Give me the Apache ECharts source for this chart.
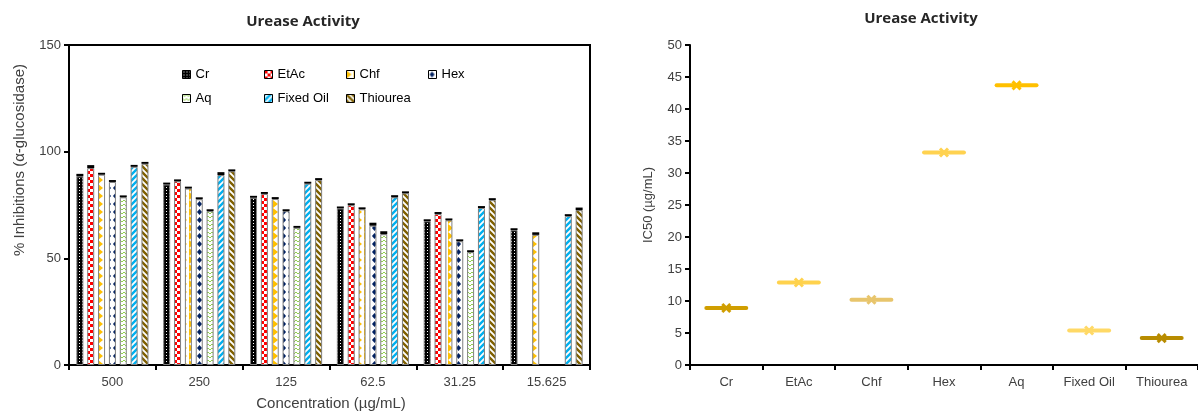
<!DOCTYPE html>
<html>
<head>
<meta charset="utf-8">
<script src="https://cdn.jsdelivr.net/npm/echarts@6/dist/echarts.min.js"></script>
<style>
html,body{margin:0;padding:0;background:#fff;}
#chart{width:1198px;height:412px;}
</style>
</head>
<body>
<div id="chart"></div>
<script>
// ---- data ----
const concentrations = ['500', '250', '125', '62.5', '31.25', '15.625'];
const extracts = ['Cr', 'EtAc', 'Chf', 'Hex', 'Aq', 'Fixed Oil', 'Thiourea'];
const crInhib    = [88.4, 84.6, 78.4, 73.4, 67.4, 63.2];
const etacInhib  = [92.3, 86.1, 80.2, 74.9, 70.8, null];
const chfInhib   = [89.2, 82.7, 77.8, 73.0, 67.8, 61.0];
const hexInhib   = [85.8, 77.7, 72.1, 65.3, 58.0, null];
const aqInhib    = [78.6, 72.1, 64.3, 61.3, 52.9, null];
const oilInhib   = [92.9, 89.0, 85.0, 78.6, 73.6, 69.8];
const thioInhib  = [94.3, 90.8, 86.7, 80.5, 77.3, 72.6];
const crErr   = [1.2, 0.9, 0.9, 0.9, 0.9, 0.9];
const etacErr = [1.4, 0.9, 0.9, 0.9, 0.9, null];
const chfErr  = [0.9, 0.9, 0.9, 0.9, 0.9, 1.2];
const hexErr  = [0.9, 0.9, 0.9, 1.4, 0.9, null];
const aqErr   = [0.9, 0.9, 0.9, 1.4, 0.9, null];
const oilErr  = [0.9, 1.4, 0.9, 1.0, 0.9, 0.9];
const thioErr = [0.9, 0.9, 0.9, 0.9, 0.9, 1.2];
const ic50Labels = ['Cr', 'EtAc', 'Chf', 'Hex', 'Aq', 'Fixed Oil', 'Thiourea'];
const ic50Values = [8.9, 12.9, 10.2, 33.2, 43.7, 5.4, 4.2];

const inhibSeries = [crInhib, etacInhib, chfInhib, hexInhib, aqInhib, oilInhib, thioInhib];
const errSeries = [crErr, etacErr, chfErr, hexErr, aqErr, oilErr, thioErr];

// ---- patterns ----
function tile(w, h, draw) {
  const c = document.createElement('canvas');
  c.width = w; c.height = h;
  const g = c.getContext('2d');
  draw(g, w, h);
  return c;
}
const patterns = [
  tile(3, 3, g => { g.fillStyle = '#000'; g.fillRect(0, 0, 3, 3); g.fillStyle = '#fff'; g.fillRect(1, 1, 1, 1); }),
  tile(6, 6, g => { g.fillStyle = '#fff'; g.fillRect(0, 0, 6, 6); g.fillStyle = '#ff0000'; g.fillRect(0, 0, 3, 3); g.fillRect(3, 3, 3, 3); }),
  tile(7, 8, g => { g.fillStyle = '#fff'; g.fillRect(0, 0, 7, 8); g.fillStyle = '#ffc000'; g.beginPath(); g.moveTo(0, 0); g.lineTo(5, 4); g.lineTo(0, 8); g.closePath(); g.fill(); }),
  tile(7, 8, g => { g.fillStyle = '#fff'; g.fillRect(0, 0, 7, 8); g.fillStyle = '#002060'; g.beginPath(); g.moveTo(3.5, 1); g.lineTo(6, 4); g.lineTo(3.5, 7); g.lineTo(1, 4); g.closePath(); g.fill(); }),
  tile(4, 4, g => { g.fillStyle = '#fff'; g.fillRect(0, 0, 4, 4); g.strokeStyle = '#92d050'; g.lineWidth = 1; g.beginPath(); g.moveTo(0, 0); g.lineTo(2, 2); g.lineTo(4, 0); g.stroke(); }),
  tile(6, 6, g => { g.fillStyle = '#fff'; g.fillRect(0, 0, 6, 6); g.strokeStyle = '#00b0f0'; g.lineWidth = 2.4; g.beginPath(); g.moveTo(-1, 7); g.lineTo(7, -1); g.moveTo(-1, 1); g.lineTo(1, -1); g.moveTo(5, 7); g.lineTo(7, 5); g.stroke(); }),
  tile(6, 6, g => { g.fillStyle = '#fff'; g.fillRect(0, 0, 6, 6); g.strokeStyle = '#7f6000'; g.lineWidth = 2.4; g.beginPath(); g.moveTo(-1, -1); g.lineTo(7, 7); g.moveTo(5, -1); g.lineTo(7, 1); g.moveTo(-1, 5); g.lineTo(1, 7); g.stroke(); })
];
const ic50Colors = ['#d09e00', '#ffd24d', '#e8c56c', '#ffd250', '#ffc000', '#ffd966', '#b88c00'];

const FONT = "'Liberation Sans', Arial, sans-serif";
const series = [];
extracts.forEach((name, i) => {
  series.push({
    type: 'bar', name: name, xAxisIndex: 0, yAxisIndex: 0, stack: 's' + i,
    data: inhibSeries[i], barWidth: 7, barGap: '55%',
    itemStyle: { color: { image: patterns[i], repeat: 'repeat' }, borderColor: '#7f7f7f', borderWidth: 1 }
  });
  series.push({
    type: 'bar', name: name + ' SD', xAxisIndex: 0, yAxisIndex: 0, stack: 's' + i,
    data: errSeries[i], barWidth: 7, barGap: '55%',
    itemStyle: { color: '#000' }
  });
});
series.push({
  type: 'custom', xAxisIndex: 1, yAxisIndex: 1,
  data: ic50Values.map((v, i) => [i, v]),
  renderItem: function (params, api) {
    const p = api.coord([api.value(0), api.value(1)]);
    const w = api.size([1, 0])[0] * 0.55;
    const col = ic50Colors[params.dataIndex];
    return {
      type: 'group',
      children: [
        { type: 'line', shape: { x1: p[0] - w / 2, y1: p[1], x2: p[0] + w / 2, y2: p[1] }, style: { stroke: col, lineWidth: 4, lineCap: 'round' } },
        { type: 'line', shape: { x1: p[0] - 4, y1: p[1] - 4, x2: p[0] + 4, y2: p[1] + 4 }, style: { stroke: col, lineWidth: 3 } },
        { type: 'line', shape: { x1: p[0] - 4, y1: p[1] + 4, x2: p[0] + 4, y2: p[1] - 4 }, style: { stroke: col, lineWidth: 3 } }
      ]
    };
  }
});

const axisLine = { show: true, lineStyle: { color: '#000', width: 2 } };
const axisTick = { show: true, length: 5, lineStyle: { color: '#000', width: 2 } };
const labelStyle = { fontFamily: FONT, fontSize: 13, color: '#404040' };
// one legend per item so the items sit in fixed columns
const legends = extracts.map((name, i) => ({
  left: 177 + 82 * (i % 4), top: i < 4 ? 63 : 87,
  itemWidth: 8, itemHeight: 8, icon: 'rect', data: [name],
  itemStyle: { borderColor: '#000', borderWidth: 1 },
  textStyle: { fontFamily: FONT, fontSize: 13, color: '#000' }
}));

const chart = echarts.init(document.getElementById('chart'));
chart.setOption({
  animation: false,
  backgroundColor: '#fff',
  grid: [
    { left: 69, top: 45, width: 521, height: 320, show: true, borderColor: '#000', borderWidth: 2, backgroundColor: 'transparent' },
    { left: 690, top: 45, width: 514, height: 320 }
  ],
  legend: legends,
  xAxis: [
    { type: 'category', gridIndex: 0, data: concentrations, axisLine: axisLine, axisTick: axisTick,
      axisLabel: Object.assign({ margin: 11 }, labelStyle) },
    { type: 'category', gridIndex: 1, data: ic50Labels, axisLine: axisLine, axisTick: axisTick,
      axisLabel: Object.assign({ margin: 11 }, labelStyle) }
  ],
  yAxis: [
    { type: 'value', gridIndex: 0, min: 0, max: 150, interval: 50, axisLine: axisLine, axisTick: axisTick,
      splitLine: { show: false }, axisLabel: Object.assign({ margin: 8 }, labelStyle) },
    { type: 'value', gridIndex: 1, min: 0, max: 50, interval: 5, axisLine: axisLine, axisTick: axisTick,
      splitLine: { show: false }, axisLabel: Object.assign({ margin: 8 }, labelStyle),
      name: 'IC50 (µg/mL)', nameLocation: 'middle', nameGap: 35,
      nameTextStyle: { fontFamily: FONT, fontSize: 13, color: '#404040' } }
  ],
  graphic: [
    { type: 'text', x: 303, y: 22, style: { text: 'Urease Activity', font: "bold 15px 'Open Sans', 'Liberation Sans', sans-serif", fill: '#262626', align: 'center', verticalAlign: 'middle' } },
    { type: 'text', x: 921, y: 19, style: { text: 'Urease Activity', font: "bold 15px 'Open Sans', 'Liberation Sans', sans-serif", fill: '#262626', align: 'center', verticalAlign: 'middle' } },
    { type: 'text', x: 331, y: 404, style: { text: 'Concentration (µg/mL)', font: "15px 'Liberation Sans', Arial, sans-serif", fill: '#404040', align: 'center', verticalAlign: 'middle' } },
    { type: 'text', x: 20, y: 160, rotation: Math.PI / 2, style: { text: '% Inhibitions (α-glucosidase)', font: "15px 'Liberation Sans', Arial, sans-serif", fill: '#404040', align: 'center', verticalAlign: 'middle' } }
  ],
  series: series
});
</script>
</body>
</html>
